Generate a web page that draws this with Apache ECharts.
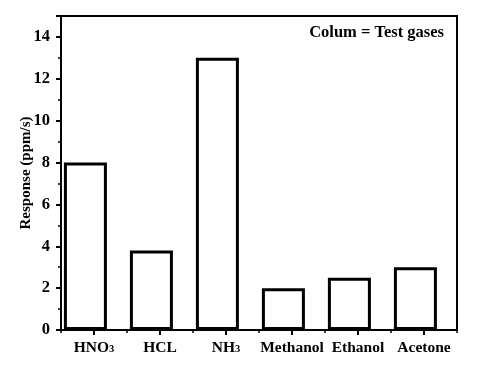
<!DOCTYPE html>
<html><head><meta charset="utf-8">
<script src="https://cdn.jsdelivr.net/npm/echarts@6/dist/echarts.min.js"></script>
<style>html,body{margin:0;padding:0;background:#fff}#c{width:483px;height:375px}</style>
</head><body><div id="c"></div>
<script>
const categories = ['HNO{s|3}', 'HCL', 'NH{s|3}', 'Methanol', 'Ethanol', 'Acetone'];
const responses = [8, 3.8, 13, 2, 2.5, 3];
const yTicks = [0, 2, 4, 6, 8, 10, 12, 14];
const yMax = 15;
const F = 'Liberation Serif';
const chart = echarts.init(document.getElementById('c'));
chart.setOption({
  animation: false,
  grid: {left: 61, right: 26, top: 16, bottom: 45, show: true, borderColor: '#000', borderWidth: 2, backgroundColor: 'transparent'},
  xAxis: [{
    type: 'category', data: categories,
    axisLine: {lineStyle: {color: '#000', width: 2}},
    axisTick: {show: true, alignWithLabel: true, interval: 0, length: 5, lineStyle: {color: '#000', width: 2}},
    axisLabel: {interval: 0, margin: 10, color: '#000', fontFamily: F, fontWeight: 'bold', fontSize: 15.5,
      rich: {s: {fontFamily: F, fontWeight: 'bold', fontSize: 10.5, color: '#000', padding: [3, 0, 0, 0]}}},
    splitLine: {show: false}
  }, {
    type: 'category', data: categories, position: 'bottom',
    axisLine: {show: false},
    axisTick: {show: true, alignWithLabel: false, interval: 0, length: 3, lineStyle: {color: '#000', width: 1.5}},
    axisLabel: {show: false},
    splitLine: {show: false}
  }],
  yAxis: {
    type: 'value', min: 0, max: yMax, interval: 2,
    name: 'Response (ppm/s)', nameLocation: 'middle', nameGap: 27, nameRotate: 90, nameMoveOverlap: false,
    nameTextStyle: {fontFamily: F, fontWeight: 'bold', fontSize: 15, color: '#000'},
    axisLine: {show: true, lineStyle: {color: '#000', width: 2}},
    axisTick: {show: true, length: 5, lineStyle: {color: '#000', width: 2}},
    minorTick: {show: true, splitNumber: 2, length: 3, lineStyle: {color: '#000', width: 1.5}},
    axisLabel: {margin: 11, color: '#000', fontFamily: F, fontWeight: 'bold', fontSize: 16.5,
      formatter: v => yTicks.includes(v) ? String(v) : ''},
    splitLine: {show: false}
  },
  series: [
    {type: 'bar', data: responses, barWidth: 43, barGap: '-60%',
     itemStyle: {color: '#fff', borderColor: '#000', borderWidth: 3}},
    {type: 'bar', data: responses.map(() => '-'), barWidth: 43}
  ],
  graphic: [{type: 'text', right: 39, top: 24,
    style: {text: 'Colum = Test gases', font: 'bold 16.5px "Liberation Serif"', fill: '#000'}}]
});
</script></body></html>
